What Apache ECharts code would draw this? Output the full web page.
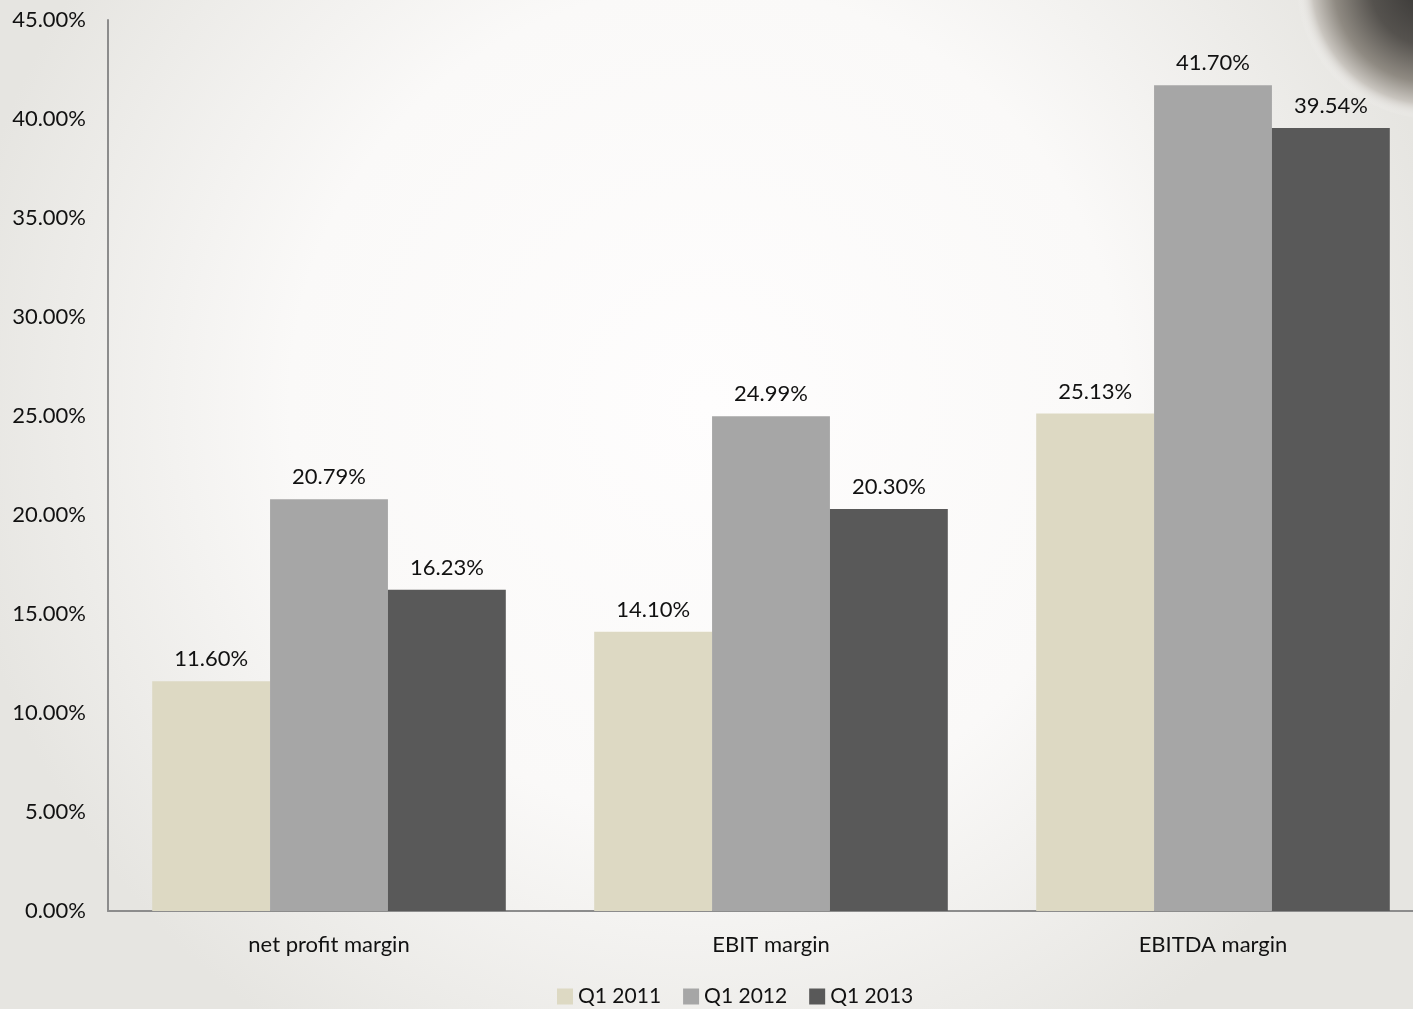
<!DOCTYPE html>
<html>
<head>
<meta charset="utf-8">
<script src="https://cdn.jsdelivr.net/npm/echarts@6/dist/echarts.min.js"></script>
<style>html,body{margin:0;padding:0;}#c{width:1413px;height:1009px;}</style>
</head>
<body>
<div id="c"></div>
<script>
var categories = ['net profit margin', 'EBIT margin', 'EBITDA margin'];
var seriesNames = ['Q1 2011', 'Q1 2012', 'Q1 2013'];
var q1_2011 = [11.60, 14.10, 25.13];
var q1_2012 = [20.79, 24.99, 41.70];
var q1_2013 = [16.23, 20.30, 39.54];
var colors = ['#ddd9c3', '#a6a6a6', '#595959'];

var FONT = 'Lato, "Open Sans", sans-serif';
var chart = echarts.init(document.getElementById('c'));
var labelCfg = {
  show: true, position: 'top', distance: 11,
  fontFamily: FONT, fontSize: 22, color: '#111',
  formatter: function (p) { return p.value.toFixed(2) + '%'; }
};
function mk(i, data) {
  return {
    name: seriesNames[i], type: 'bar', data: data,
    barGap: '0%', barCategoryGap: '20%',
    itemStyle: { color: colors[i] },
    label: labelCfg
  };
}
chart.setOption({
  animation: false,
  graphic: [
    { type: 'rect', z: -100, silent: true,
      shape: { x: 0, y: 0, width: 1413, height: 1009 },
      style: { fill: { type: 'radial', x: 0.5, y: 0.4, r: 0.75,
        colorStops: [{ offset: 0, color: '#fefdfd' }, { offset: 0.55, color: '#faf9f8' }, { offset: 1, color: '#e6e5e1' }] } } },
    { type: 'ellipse', z: -90, silent: true,
      shape: { cx: 1440, cy: -15, rx: 145, ry: 135 },
      style: { fill: { type: 'radial', x: 0.47, y: 0.5, r: 0.5,
        colorStops: [{ offset: 0, color: '#333231' }, { offset: 0.45, color: '#55524e' }, { offset: 0.72, color: '#8f8a82' }, { offset: 0.88, color: '#c9c5bf' }, { offset: 1, color: 'rgba(250,249,248,0)' }] } } }
  ],
  grid: { left: 108, width: 1326, top: 20, bottom: 98, containLabel: false, outerBoundsMode: 'none' },
  legend: {
    left: 552, top: 981, itemWidth: 16, itemHeight: 16, itemGap: 22,
    icon: 'rect',
    textStyle: { fontFamily: FONT, fontSize: 21, color: '#111' },
    data: seriesNames
  },
  xAxis: {
    type: 'category', data: categories,
    axisLine: { lineStyle: { color: '#8c8c8c', width: 2 } },
    axisTick: { show: false },
    axisLabel: { fontFamily: FONT, fontSize: 22, color: '#111', margin: 23 }
  },
  yAxis: {
    type: 'value', min: 0, max: 45, interval: 5,
    axisLine: { show: true, lineStyle: { color: '#8c8c8c', width: 2 } },
    axisTick: { show: false },
    splitLine: { show: false },
    axisLabel: { fontFamily: FONT, fontSize: 22, color: '#111', margin: 22,
      formatter: function (v) { return v.toFixed(2) + '%'; } }
  },
  series: [mk(0, q1_2011), mk(1, q1_2012), mk(2, q1_2013)]
});
</script>
</body>
</html>
